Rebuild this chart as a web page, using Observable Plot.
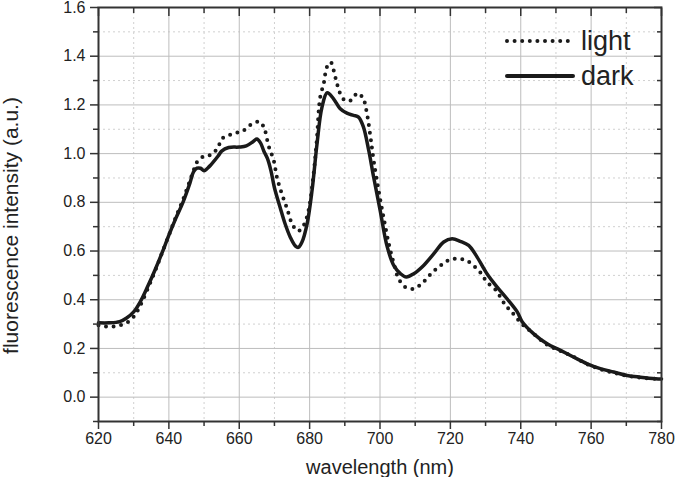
<!DOCTYPE html>
<html>
<head>
<meta charset="utf-8">
<script src="https://cdn.jsdelivr.net/npm/d3@7"></script>
<script src="https://cdn.jsdelivr.net/npm/@observablehq/plot@0.6"></script>
<style>
  html, body { margin: 0; padding: 0; background: #fff; }
  #wrap { position: relative; width: 675px; height: 477px; }
  #legend { position: absolute; left: 0; top: 0; }
</style>
</head>
<body>
<div id="wrap"></div>
<script>
// wavelength (nm) / fluorescence intensity (a.u.) for the "dark" series
const darkWavelength = [620,623,626,628,630,632,634,636,638,640,642,644,646,647,648,649,650,651,652,654,655,657,660,662,664,665,666,667,668,669,670,671.6,673,674.5,676,676.8,677.8,679.3,680.7,682.1,683.5,685,686.8,688.7,690.6,692.5,693.9,695.3,696.8,698.2,700,702,703.9,705.8,707.5,709.6,712.4,715.3,718.1,720.5,722.8,725.2,727.6,730.4,733.3,736.1,739,740.4,743.7,747.5,751.3,755.1,758.9,762.6,766.4,770.2,774,778.3,780];
const darkIntensity = [0.305,0.305,0.31,0.325,0.35,0.395,0.455,0.52,0.59,0.665,0.735,0.80,0.88,0.925,0.94,0.94,0.93,0.94,0.955,0.99,1.01,1.025,1.027,1.032,1.05,1.06,1.045,1.01,0.98,0.93,0.86,0.78,0.713,0.657,0.62,0.615,0.636,0.713,0.85,1.04,1.19,1.25,1.225,1.184,1.166,1.157,1.15,1.109,1.013,0.903,0.77,0.62,0.541,0.507,0.493,0.507,0.541,0.589,0.637,0.65,0.64,0.623,0.575,0.507,0.452,0.404,0.35,0.31,0.26,0.219,0.192,0.164,0.137,0.117,0.103,0.089,0.082,0.076,0.075];

// "light" series
const lightWavelength = [620,622,624,626,628,630,632,634,636,638,640,642,644,646,647,648,650,652,654,655,657,659,661,663,665,666,667.2,668.3,669.8,670.7,672.1,673.6,675,676.7,678.3,679.7,681,682,683,684,684.9,686,687.3,688.7,690.1,692,693.5,694.5,695.3,696.3,697.3,698.2,699.6,701,702.5,703.9,705.3,707.2,709.6,712,713.8,715.7,717.9,720,722.4,724.6,726.8,728.8,730.4,732.8,735.6,738,740.4,743.7,747.5,751.3,755.1,758.9,762.6,766.4,770.2,774,778.3,780];
const lightIntensity = [0.295,0.29,0.29,0.295,0.305,0.33,0.38,0.445,0.515,0.59,0.665,0.74,0.81,0.89,0.93,0.965,0.99,0.995,1.027,1.06,1.075,1.085,1.093,1.116,1.13,1.13,1.10,1.034,0.972,0.903,0.835,0.774,0.712,0.682,0.705,0.767,0.90,1.05,1.232,1.287,1.355,1.375,1.314,1.246,1.218,1.221,1.248,1.24,1.225,1.164,1.068,0.972,0.849,0.739,0.63,0.55,0.486,0.452,0.445,0.468,0.496,0.523,0.548,0.566,0.568,0.561,0.537,0.507,0.472,0.442,0.379,0.34,0.30,0.26,0.215,0.19,0.165,0.135,0.115,0.10,0.088,0.08,0.075,0.074];

// axis ticks
const xMajorTicks = [620,640,660,680,700,720,740,760,780];
const xMinorTicks = [630,650,670,690,710,730,750,770];
const yMajorTicks = [0.0,0.2,0.4,0.6,0.8,1.0,1.2,1.4,1.6];
const yMinorTicks = [-0.1,0.1,0.3,0.5,0.7,0.9,1.1,1.3,1.5];

const seriesNames = ["light", "dark"];
const xTitle = "wavelength (nm)";
const yTitle = "fluorescence intensity (a.u.)";

const dark = darkWavelength.map((x, i) => ({x, y: darkIntensity[i]}));
const light = lightWavelength.map((x, i) => ({x, y: lightIntensity[i]}));

const axisColor = "#333";
const fontFamily = "'Liberation Sans', Arial, Helvetica, sans-serif";

const chart = Plot.plot({
  width: 675,
  height: 477,
  marginLeft: 98,
  marginRight: 14,
  marginTop: 7,
  marginBottom: 56,
  style: {fontFamily, fontSize: "16px", color: "#222", background: "#fff"},
  x: {domain: [620, 780]},
  y: {domain: [-0.1, 1.6]},
  marks: [
    Plot.gridX(xMinorTicks, {stroke: "#d0d0d0", strokeOpacity: 1, strokeDasharray: "2,3"}),
    Plot.gridY(yMinorTicks, {stroke: "#d0d0d0", strokeOpacity: 1, strokeDasharray: "2,3"}),
    Plot.gridX(xMajorTicks, {stroke: "#bdbdbd", strokeOpacity: 1}),
    Plot.gridY(yMajorTicks, {stroke: "#bdbdbd", strokeOpacity: 1}),
    Plot.line(dark, {x: "x", y: "y", stroke: "#1a1a1a", strokeWidth: 3.5, curve: "catmull-rom"}),
    Plot.line(light, {x: "x", y: "y", stroke: "#1a1a1a", strokeWidth: 4, strokeDasharray: "0 7.6", strokeLinecap: "round", curve: "catmull-rom"}),
    Plot.frame({stroke: axisColor, strokeWidth: 2}),
    Plot.axisX(xMajorTicks, {anchor: "bottom", tickSize: 8, tickPadding: 3, stroke: axisColor, strokeWidth: 1.5,
      label: xTitle, labelAnchor: "center", labelArrow: "none", labelOffset: 52, tickFormat: d => d}),
    Plot.axisX(xMinorTicks, {anchor: "bottom", tickSize: 5, stroke: axisColor, strokeWidth: 1.5, text: null, label: null}),
    Plot.axisX(xMajorTicks, {anchor: "top", tickSize: -8, stroke: axisColor, strokeWidth: 1.5, text: null, label: null}),
    Plot.axisX(xMinorTicks, {anchor: "top", tickSize: -5, stroke: axisColor, strokeWidth: 1.5, text: null, label: null}),
    Plot.axisY(yMajorTicks, {anchor: "left", tickSize: 8, tickPadding: 5, stroke: axisColor, strokeWidth: 1.5,
      label: yTitle, labelAnchor: "center", labelArrow: "none", labelOffset: 95, tickFormat: d3.format(".1f")}),
    Plot.axisY(yMinorTicks, {anchor: "left", tickSize: 5, stroke: axisColor, strokeWidth: 1.5, text: null, label: null}),
    Plot.axisY(yMajorTicks, {anchor: "right", tickSize: -8, stroke: axisColor, strokeWidth: 1.5, text: null, label: null}),
    Plot.axisY(yMinorTicks, {anchor: "right", tickSize: -5, stroke: axisColor, strokeWidth: 1.5, text: null, label: null})
  ]
});

// font sizes: tick labels 16px, axis titles 20-21px; strip any label arrows
chart.querySelectorAll("text").forEach(t => {
  const s = t.textContent;
  if (s.includes("wavelength")) {
    t.textContent = s.replace(/\s*[↑→←↓]\s*/g, "").trim();
    t.style.fontSize = "20px";
  } else if (s.includes("fluorescence")) {
    t.textContent = s.replace(/\s*[↑→←↓]\s*/g, "").trim();
    t.style.fontSize = "21px";
    const tr = t.getAttribute("transform") || "";
    t.setAttribute("transform", "translate(0,11) " + tr);
  } else {
    t.style.fontSize = "16px";
  }
  t.style.fill = "#222";
});

document.getElementById("wrap").appendChild(chart);

// legend
const ns = "http://www.w3.org/2000/svg";
const leg = document.createElementNS(ns, "svg");
leg.setAttribute("id", "legend");
leg.setAttribute("width", 675);
leg.setAttribute("height", 120);
const rows = [
  {name: seriesNames[0], y: 41, dash: "0 7.6", w: 4},
  {name: seriesNames[1], y: 76, dash: null, w: 4}
];
rows.forEach(r => {
  const ln = document.createElementNS(ns, "line");
  ln.setAttribute("x1", 507); ln.setAttribute("x2", 573);
  ln.setAttribute("y1", r.y); ln.setAttribute("y2", r.y);
  ln.setAttribute("stroke", "#1a1a1a");
  ln.setAttribute("stroke-width", r.w);
  ln.setAttribute("stroke-linecap", "round");
  if (r.dash) ln.setAttribute("stroke-dasharray", r.dash);
  leg.appendChild(ln);
  const tx = document.createElementNS(ns, "text");
  tx.setAttribute("x", 581);
  tx.setAttribute("y", r.y + 9);
  tx.setAttribute("font-family", fontFamily);
  tx.setAttribute("font-size", 27);
  tx.setAttribute("fill", "#222");
  tx.textContent = r.name;
  leg.appendChild(tx);
});
document.getElementById("wrap").appendChild(leg);
</script>
</body>
</html>
